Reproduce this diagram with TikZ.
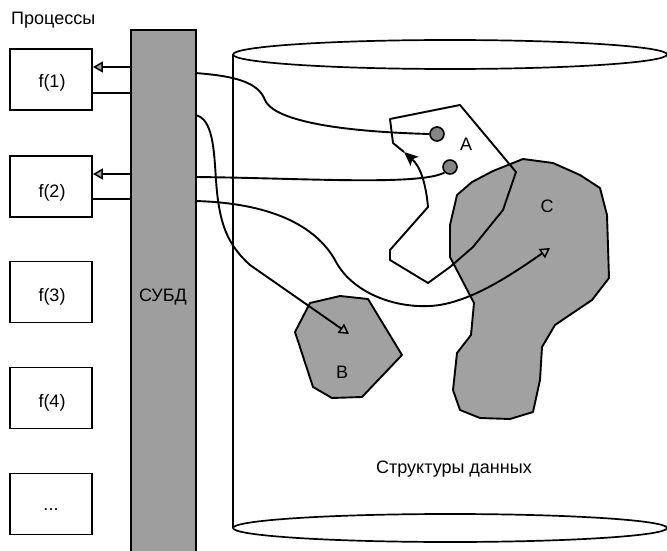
\documentclass[tikz,border=0pt]{standalone}
\usepackage{fontspec}
\setmainfont{Liberation Sans}
\usetikzlibrary{arrows.meta}
\definecolor{barg}{gray}{0.62}
\definecolor{regg}{gray}{0.63}
\definecolor{dotg}{gray}{0.52}
\begin{document}
\begin{tikzpicture}[x=1pt,y=-1pt,
  line/.style={line width=1.9pt,line join=round},
  procbox/.style={draw,line width=1.9pt,minimum width=82pt,minimum height=61pt,inner sep=0pt},
  lbl/.style={font=\fontsize{18}{21}\selectfont,inner sep=0pt},
  openhead/.style={-{Triangle[length=10pt,width=11pt,fill=gray!70,line width=1.5pt]}},
  fillhead/.style={-{Stealth[length=14pt,width=12pt,inset=3pt]}},
  region/.style={draw,line width=1.9pt,fill=regg,line join=round},
  dot/.style={circle,draw,line width=1.6pt,fill=dotg,minimum size=14pt,inner sep=0pt}]
\useasboundingbox (0,0) rectangle (667,551);
\fill[white] (0,0) rectangle (667,551);

% process boxes
\node[procbox] (p1) at (51,79.5) {};
\node[procbox] (p2) at (51,186.5) {};
\node[procbox] (p3) at (51,292) {};
\node[procbox] (p4) at (51,398) {};
\node[procbox] (p5) at (51,504) {};
\node[lbl,anchor=base] (t1) at (52,88) {f(1)};
\node[lbl,anchor=base] (t2) at (52,197) {f(2)};
\node[lbl,anchor=base] (t3) at (52,301) {f(3)};
\node[lbl,anchor=base] (t4) at (52,407) {f(4)};
\node[lbl,anchor=base] (t5) at (51,510) {...};
\node[lbl,anchor=base west] (proc) at (11,25) {Процессы};

% DBMS bar
\node[draw,line width=1.9pt,fill=barg,minimum width=65pt,minimum height=560pt,inner sep=0pt,anchor=north west] (dbms) at (130,29) {};
\node[lbl,anchor=base] (dbmsl) at (163,301) {СУБД};

% cylinder
\draw[line width=1.7pt] (450,54.5) ellipse [x radius=217, y radius=14.5];
\draw[line width=1.7pt] (450,528) ellipse [x radius=217, y radius=14];
\coordinate (cyltop) at (233,54.5);
\coordinate (cylbot) at (233,528);
\draw[line width=1.7pt] (cyltop) -- (cylbot);
\node[lbl,anchor=base] (ds) at (454,473) {Структуры данных};

% regions
\draw[region] (523,159) -- (553,163) -- (580,175) -- (600,188) -- (607,215) -- (609,278)
  -- (592,300) -- (555,325) -- (542,347) -- (540,380) -- (533,412) -- (510,419) -- (480,418)
  -- (460,410) -- (453,390) -- (457,353) -- (471,335) -- (474,303) -- (462,280) -- (450,257)
  -- (450,225) -- (457,195) -- (472,182) -- (493,171) -- cycle;
\draw[region] (310,303) -- (340,296) -- (368,299) -- (402,355) -- (362,397) -- (332,398)
  -- (313,387) -- (295,332) -- cycle;

% structure A
\draw[line,fillhead] (404,152) -- (393,143) -- (390,119) -- (460,105) -- (516,172) -- (503,210)
  -- (473,247) -- (450,267) -- (428,283) -- (390,260) -- (390,250) -- (428,207)
  .. controls (426,185) and (421,167) .. (404,152);

\node[dot] (c1) at (437,134) {};
\node[dot] (c2) at (450,167) {};
\node[lbl,anchor=base] (la) at (466,150) {A};
\node[lbl,anchor=base] (lb) at (342,378) {B};
\node[lbl,anchor=base] (lc) at (547,212) {C};

% process <-> DBMS
\coordinate (a1) at (130,67);
\coordinate (q1) at (130,93);
\coordinate (a2) at (130,174);
\coordinate (q2) at (130,199);
\draw[line,openhead] (a1) -- (p1.east |- a1);
\draw[line] (p1.east |- q1) -- (q1);
\draw[line,openhead] (a2) -- (p2.east |- a2);
\draw[line] (p2.east |- q2) -- (q2);

% DBMS -> data
\coordinate (s1) at (195,73);
\coordinate (s2) at (195,115);
\coordinate (s3) at (195,177);
\coordinate (s4) at (195,201);
\coordinate (bt) at (349,334);
\coordinate (ct) at (550,248);
\draw[line] (s1) .. controls (235,76) and (258,82) .. (265,100)
  .. controls (272,117) and (320,131) .. (c1.west);
\draw[line,openhead] (s2) .. controls (213,118) and (214,150) .. (216,180)
  .. controls (219,225) and (228,245) .. (250,265) -- (bt);
\draw[line] (s3) .. controls (300,178) and (420,186) .. (c2.south west);
\draw[line,openhead] (s4) .. controls (270,203) and (315,225) .. (335,260)
  .. controls (350,290) and (390,308) .. (430,306)
  .. controls (470,304) and (515,272) .. (ct);
\end{tikzpicture}
\end{document}
